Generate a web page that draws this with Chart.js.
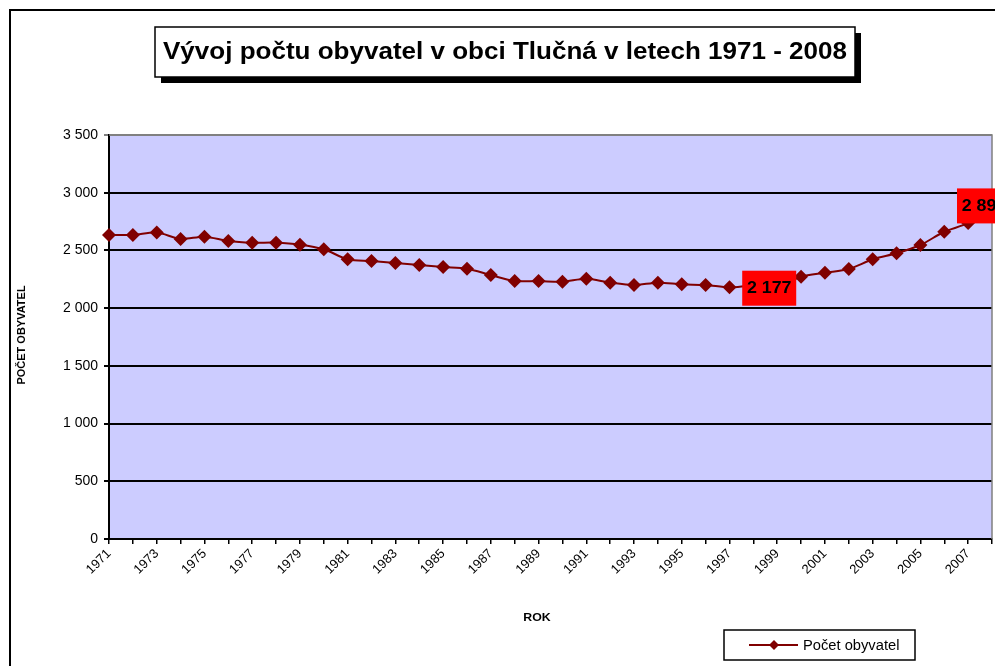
<!DOCTYPE html>
<html>
<head>
<meta charset="utf-8">
<script src="https://cdn.jsdelivr.net/npm/chart.js@4.4.1/dist/chart.umd.min.js"></script>
<style>
  body { margin: 0; background: #fff; }
  #wrap { width: 995px; height: 666px; position: relative; }
</style>
</head>
<body>
<div id="wrap"><canvas id="vyvoj"></canvas></div>
<script>
var years = [
  "1971", "1972", "1973", "1974", "1975", "1976", "1977", "1978", "1979", "1980",
  "1981", "1982", "1983", "1984", "1985", "1986", "1987", "1988", "1989", "1990",
  "1991", "1992", "1993", "1994", "1995", "1996", "1997", "1998", "1999", "2000",
  "2001", "2002", "2003", "2004", "2005", "2006", "2007", "2008"
];
var population = [
  2634, 2634, 2655, 2600, 2619, 2582, 2567, 2567, 2550, 2510,
  2423, 2408, 2391, 2374, 2356, 2342, 2287, 2235, 2235, 2229,
  2255, 2221, 2200, 2221, 2206, 2200, 2180, 2195, 2177, 2273,
  2307, 2339, 2423, 2475, 2547, 2662, 2738, 2890
];
var labelledYears = ["1999", "2008"];
var yTicks = [0, 500, 1000, 1500, 2000, 2500, 3000, 3500];

var chartTitle = "Vývoj počtu obyvatel v obci Tlučná v letech 1971 - 2008";
var seriesName = "Počet obyvatel";

function spaced(v) {
  return String(v).replace(/\B(?=(\d{3})+(?!\d))/g, " ");
}

var FONT = "'Liberation Sans', Arial, sans-serif";

// text a bit wider than normal, like the original
function wideText(c, txt, x, y, sx) {
  c.save();
  c.translate(x, y);
  c.scale(sx, 1);
  c.fillText(txt, 0, 0);
  c.restore();
}

// frame, title box, axis titles, legend, data labels
var decor = {
  id: "decor",
  beforeDraw: function (chart) {
    var c = chart.ctx, a = chart.chartArea;
    c.save();
    c.fillStyle = "#CCCCFF";
    c.fillRect(a.left, a.top, a.right - a.left, a.bottom - a.top);
    c.restore();
  },
  afterDatasetsDraw: function (chart) {
    var c = chart.ctx, a = chart.chartArea;
    var meta = chart.getDatasetMeta(0);
    c.save();
    // plot border top/right
    c.strokeStyle = "#808080";
    c.lineWidth = 1.5;
    c.beginPath();
    c.moveTo(a.left, a.top);
    c.lineTo(a.right, a.top);
    c.lineTo(a.right, a.bottom);
    c.stroke();

    // data labels
    labelledYears.forEach(function (yr) {
      var i = years.indexOf(yr);
      var pt = meta.data[i];
      var cx = pt.x - 8, cy = pt.y;
      c.fillStyle = "#FF0000";
      c.fillRect(cx - 27, cy - 17, 54, 35);
      c.fillStyle = "#000";
      c.font = "bold 17px " + FONT;
      c.textAlign = "center";
      c.textBaseline = "middle";
      wideText(c, spaced(population[i]), cx, cy + 1, 1.05);
    });
    c.restore();
  },
  afterDraw: function (chart) {
    var c = chart.ctx;
    c.save();
    // outer frame
    c.strokeStyle = "#000";
    c.lineWidth = 2;
    c.beginPath();
    c.moveTo(10, 666);
    c.lineTo(10, 10);
    c.lineTo(995, 10);
    c.stroke();

    // title box with shadow
    c.fillStyle = "#000";
    c.fillRect(161, 33, 700, 50);
    c.fillStyle = "#fff";
    c.fillRect(155, 27, 700, 50);
    c.lineWidth = 1.5;
    c.strokeRect(155, 27, 700, 50);
    c.fillStyle = "#000";
    c.font = "bold 23px " + FONT;
    c.textAlign = "center";
    c.textBaseline = "middle";
    var w = c.measureText(chartTitle).width;
    wideText(c, chartTitle, 505, 53, 684 / w);

    // axis titles
    c.font = "bold 11px " + FONT;
    wideText(c, "ROK", 537, 618, 1.12);
    c.save();
    c.translate(22, 335);
    c.rotate(-Math.PI / 2);
    c.fillText("POČET OBYVATEL", 0, 0);
    c.restore();

    // legend
    c.strokeStyle = "#000";
    c.lineWidth = 1.5;
    c.strokeRect(724, 630, 191, 30);
    c.strokeStyle = "#800000";
    c.lineWidth = 2;
    c.beginPath();
    c.moveTo(749, 645);
    c.lineTo(798, 645);
    c.stroke();
    c.fillStyle = "#800000";
    c.beginPath();
    c.moveTo(774, 640);
    c.lineTo(779, 645);
    c.lineTo(774, 650);
    c.lineTo(769, 645);
    c.closePath();
    c.fill();
    c.fillStyle = "#000";
    c.font = "14px " + FONT;
    c.textAlign = "left";
    wideText(c, seriesName, 803, 646, 1.05);
    c.restore();
  }
};

var ctx = document.getElementById("vyvoj");

new Chart(ctx, {
  type: "line",
  data: {
    labels: years,
    datasets: [
      {
        label: seriesName,
        data: population,
        borderColor: "#800000",
        backgroundColor: "#800000",
        borderWidth: 2,
        tension: 0.3,
        pointStyle: "rectRot",
        pointRadius: 7,
        pointHoverRadius: 7,
        pointBackgroundColor: "#800000",
        pointBorderColor: "#800000",
        pointBorderWidth: 0,
        clip: false
      }
    ]
  },
  options: {
    responsive: true,
    maintainAspectRatio: false,
    animation: false,
    layout: {
      autoPadding: false,
      padding: { left: 10, top: 135, right: 3, bottom: 0 }
    },
    plugins: {
      legend: { display: false },
      tooltip: { enabled: false }
    },
    scales: {
      x: {
        offset: false,
        afterFit: function (s) {
          s.height = 127;
          s.paddingLeft = 0;
          s.paddingRight = 0;
        },
        border: { color: "#000", width: 2 },
        grid: {
          drawOnChartArea: false,
          drawTicks: true,
          tickLength: 5,
          color: "#000",
          lineWidth: 1.5
        },
        ticks: {
          autoSkip: false,
          maxRotation: 45,
          minRotation: 45,
          padding: 2,
          color: "#000",
          font: { family: FONT, size: 13 },
          callback: function (value, index) {
            return index % 2 === 0 ? this.getLabelForValue(value) : "";
          }
        }
      },
      y: {
        min: 0,
        max: 3500,
        afterFit: function (s) {
          s.width = 99;
          s.paddingTop = 0;
          s.paddingBottom = 0;
        },
        afterBuildTicks: function (s) {
          s.ticks = yTicks.map(function (v) { return { value: v }; });
        },
        border: { color: "#000", width: 2 },
        grid: {
          color: function (c) { return c.tick && c.tick.value === 3500 ? "#808080" : "#000"; },
          lineWidth: 2,
          tickLength: 5,
          drawTicks: true
        },
        ticks: {
          padding: 6,
          color: "#000",
          font: { family: FONT, size: 14 },
          callback: function (value) { return spaced(value); }
        }
      }
    }
  },
  plugins: [decor]
});
</script>
</body>
</html>
